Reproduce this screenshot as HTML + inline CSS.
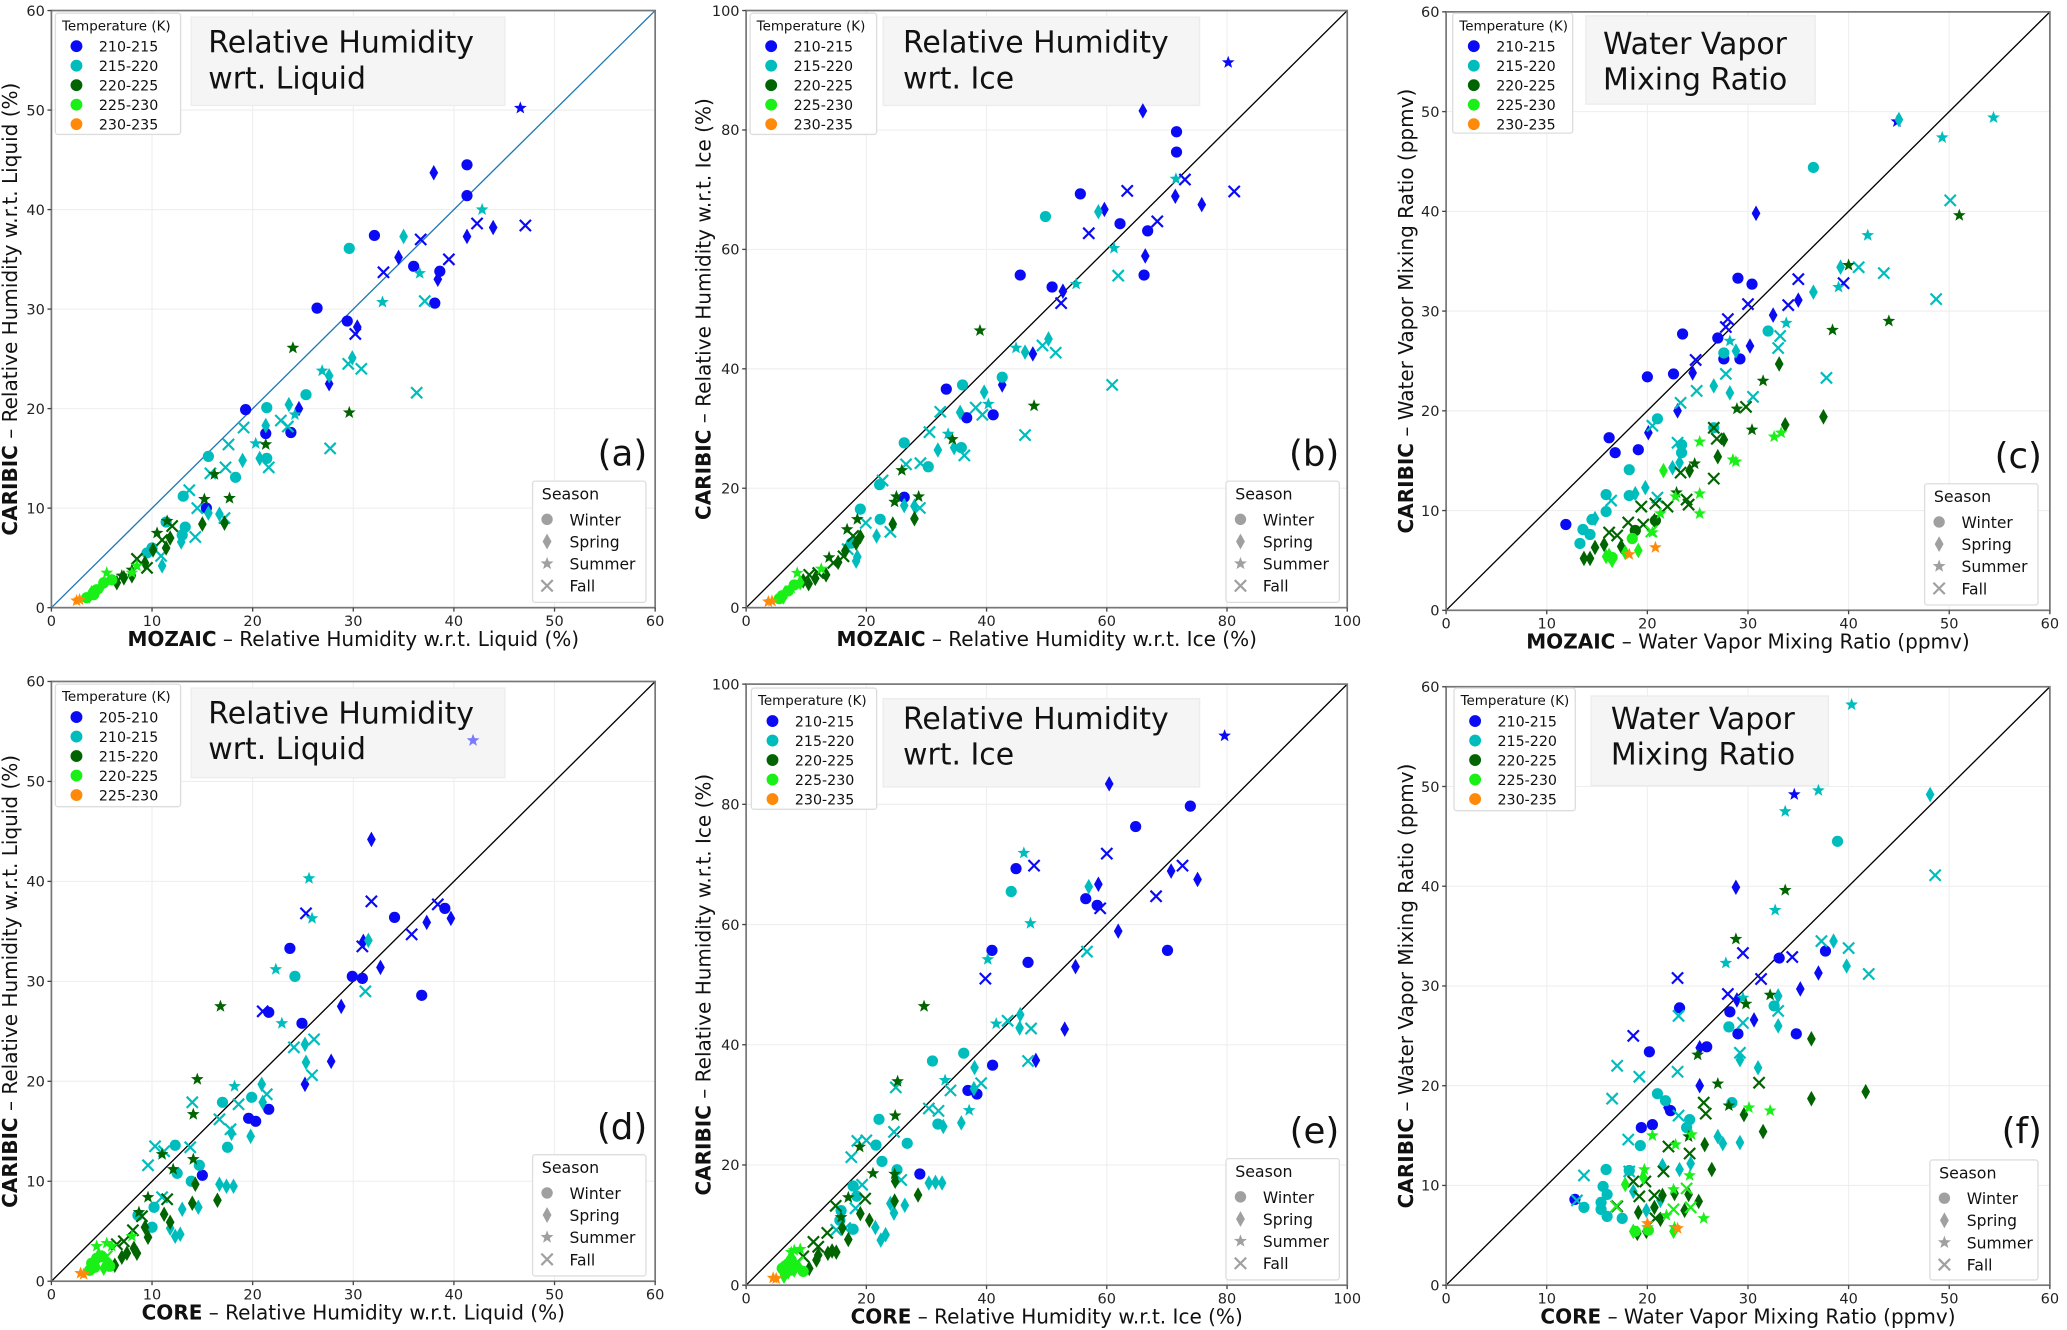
<!DOCTYPE html>
<html><head><meta charset="utf-8"><style>
html,body{margin:0;padding:0;background:#fff}
svg{display:block}
text{font-family:"DejaVu Sans","Liberation Sans",sans-serif}
</style></head><body>
<svg id="fig" width="2067" height="1330" viewBox="0 0 1568 1009" preserveAspectRatio="none" xmlns="http://www.w3.org/2000/svg"></svg>
<script>
// ---- data arrays: [x, y, tempClass, season] ; season 0 winter,1 spring,2 summer,3 fall
const panelAPoints = [
[46.6,50.2,0,2],[38,43.7,0,1],[41.3,44.5,0,0],[41.3,41.4,0,0],[41.3,37.3,0,1],[43.9,38.2,0,1],[42.3,38.6,0,3],[47.1,38.4,0,3],[36.7,37,0,3],[39.5,35,0,3],[32.1,37.4,0,0],[34.5,35.2,0,1],[33,33.7,0,3],[36,34.3,0,0],[38.6,33.8,0,0],[38.4,33,0,1],[38.1,30.6,0,0],[26.4,30.1,0,0],[29.4,28.8,0,0],[30.4,28.2,0,1],[30.2,27.5,0,3],[27.6,22.5,0,1],[24.6,20,0,1],[19.3,19.9,0,0],[21.3,17.5,0,0],[23.8,17.6,0,0],[15.4,10,0,0],
[29.6,36.1,1,0],[35,37.3,1,1],[42.8,40,1,2],[36.6,33.6,1,2],[32.9,30.7,1,2],[37.1,30.8,1,3],[29.5,24.5,1,3],[30.8,24,1,3],[29.9,25.1,1,1],[26.9,23.8,1,2],[27.6,23.3,1,1],[36.3,21.6,1,3],[27.7,16,1,3],[25.3,21.4,1,0],[21.4,20.1,1,0],[23.6,20.4,1,1],[21.3,18.3,1,1],[24.2,19.4,1,2],[22.8,18.8,1,3],[23.5,18.2,1,3],[19.1,18.1,1,3],[17.6,16.4,1,3],[20.3,16.5,1,2],[19,14.8,1,1],[20.7,15,1,1],[21.4,15,1,0],[18.3,13.1,1,0],[15.6,15.2,1,0],[13.1,11.2,1,0],[21.6,14.1,1,3],[17.3,14.1,1,3],[13.7,11.8,1,3],[14.5,10,1,3],[15.8,13.5,1,3],[14.3,7.1,1,3],[15.6,9.5,1,1],[16.7,9.4,1,1],[17.2,9,1,3],[11.4,8.6,1,0],[13.3,8.1,1,0],[13,7.3,1,0],[12.9,6.6,1,1],[10,6,1,0],[9.5,5.5,1,0],[11,4.2,1,1],[10.9,5.2,1,3],
[24,26.1,2,2],[29.6,19.6,2,2],[21.3,16.4,2,2],[16.2,13.4,2,2],[17.7,11,2,2],[15.2,10.9,2,2],[11.5,8.7,2,2],[15,8.4,2,1],[17.2,8.5,2,1],[11.8,7,2,1],[11.4,6,2,1],[10.1,5.8,2,1],[9.3,4.5,2,1],[8,3.2,2,1],[6.5,2.5,2,1],[7.2,3,2,1],[12,8.2,2,3],[11,6.8,2,3],[9.5,4,2,3],[8.5,4.9,2,3],[10.5,7.5,2,2],[7,3.2,2,2],[8,3.8,2,2],
[3.5,1,3,0],[4,1.5,3,1],[4.5,1.8,3,0],[5,2.2,3,1],[5.5,3.5,3,2],[6,2.8,3,0],[8,3.5,3,2],[8.5,4.2,3,2],[3.8,1.2,3,1],[4.2,1.3,3,0],[5.2,2.5,3,0],
[2.5,0.7,4,2],[2.8,0.8,4,2]];
const panelBPoints = [
[80.2,91.3,0,2],[66,83.2,0,1],[71.6,79.7,0,0],[71.6,76.3,0,0],[55.6,69.3,0,0],[62.2,64.3,0,0],[66.8,63.1,0,0],[45.6,55.7,0,0],[66.2,55.7,0,0],[50.9,53.7,0,0],[33.3,36.6,0,0],[36.7,31.8,0,0],[41.1,32.3,0,0],[26.3,18.5,0,0],[59.6,66.7,0,1],[71.4,68.9,0,1],[75.8,67.5,0,1],[66.4,58.9,0,1],[52.7,53,0,1],[47.7,42.5,0,1],[42.6,37.3,0,1],[63.4,69.8,0,3],[73,71.7,0,3],[81.2,69.7,0,3],[57,62.7,0,3],[68.4,64.7,0,3],[52.4,51,0,3],
[49.8,65.5,1,0],[26.3,27.6,1,0],[36,37.3,1,0],[42.6,38.6,1,0],[35.8,26.8,1,0],[30.3,23.6,1,0],[22.2,20.6,1,0],[19,16.5,1,0],[22.3,14.8,1,0],[17.5,10.8,1,0],[58.6,66.3,1,1],[50.3,45,1,1],[46.4,42.8,1,1],[39.6,36.1,1,1],[35.6,32.7,1,1],[31.9,26.4,1,1],[34.6,26.8,1,1],[26.3,17.1,1,1],[28,17,1,1],[21.7,12,1,1],[18.3,7.8,1,1],[18.5,8.5,1,1],[71.5,71.8,1,2],[61.2,60.2,1,2],[54.9,54.2,1,2],[44.9,43.5,1,2],[40.3,34.1,1,2],[33.6,29.1,1,2],[61.9,55.6,1,3],[49.3,43.9,1,3],[51.5,42.7,1,3],[38.2,33.5,1,3],[39.3,32.3,1,3],[32.3,32.8,1,3],[30.5,29.4,1,3],[60.9,37.3,1,3],[46.4,28.9,1,3],[36.3,25.5,1,3],[26.6,24,1,3],[29,24.2,1,3],[22.7,21.3,1,3],[28.9,16.7,1,3],[24,12.7,1,3],[19.9,14.2,1,3],[16.9,9.8,1,3],
[38.9,46.4,2,2],[47.9,33.8,2,2],[34.3,28.2,2,2],[25.9,23,2,2],[24.7,17.7,2,2],[25,18.6,2,2],[28.7,18.6,2,2],[16.8,13.1,2,2],[18.5,14.8,2,2],[13.8,8.4,2,2],[28,14.9,2,1],[24.4,14,2,1],[19,11.9,2,1],[18.3,10.8,2,1],[16.5,9.5,2,1],[15.3,7.6,2,1],[13.3,5.5,2,1],[11.5,4.9,2,1],[10.4,4,2,1],[9.5,4.5,2,1],[17.8,12,2,3],[16.2,8.6,2,3],[12,5.8,2,3],[14.5,7.5,2,3],[10.5,5.5,2,3],
[8.5,5.8,3,2],[6,2,3,0],[6.5,2.5,3,1],[7,2.8,3,0],[7.5,3.3,3,2],[8,3.8,3,0],[12.5,6.5,3,2],[6.2,1.8,3,1],[5.5,1.5,3,0],[9,4.2,3,1],
[3.7,1,4,2],[4.3,1.1,4,2]];
const panelCPoints = [
[11.9,8.6,0,0],[16.2,17.3,0,0],[16.8,15.8,0,0],[19.1,16.1,0,0],[20,23.4,0,0],[22.6,23.7,0,0],[23.5,27.7,0,0],[27,27.3,0,0],[27.6,25.2,0,0],[29,33.3,0,0],[29.2,25.2,0,0],[30.4,32.7,0,0],[44.8,49,0,2],[30.8,39.8,0,1],[20.1,17.8,0,1],[23,20,0,1],[24.5,23.8,0,1],[30.2,26.5,0,1],[32.5,29.6,0,1],[35,31.1,0,1],[24.8,25.1,0,3],[28,29.2,0,3],[27.8,28.4,0,3],[30,30.7,0,3],[34,30.6,0,3],[35,33.2,0,3],[39.5,32.8,0,3],
[36.5,44.4,1,0],[32,28,1,0],[27.6,25.8,1,0],[18.2,14.1,1,0],[15.9,11.6,1,0],[15.9,9.9,1,0],[13.6,8.1,1,0],[13.3,6.7,1,0],[14.3,7.6,1,0],[14.5,9.1,1,0],[21,19.2,1,0],[23.4,16.6,1,0],[23.4,15.8,1,0],[18.2,11.5,1,0],[26.6,18.3,1,0],[45,49.2,1,1],[39.2,34.4,1,1],[36.5,31.9,1,1],[28.8,26,1,1],[26.6,22.5,1,1],[28.2,21.8,1,1],[22.5,14.3,1,1],[23.2,14.8,1,1],[19.8,12.3,1,1],[18.8,11.7,1,1],[14.8,9.2,1,1],[49.3,47.4,1,2],[54.4,49.4,1,2],[41.9,37.6,1,2],[39,32.4,1,2],[33.8,28.8,1,2],[28.2,27,1,2],[50.1,41.1,1,3],[41,34.4,1,3],[43.5,33.8,1,3],[48.7,31.2,1,3],[33.2,27.5,1,3],[33,26.3,1,3],[37.8,23.3,1,3],[27.8,23.7,1,3],[24.9,22,1,3],[23.3,20.8,1,3],[30.5,21.4,1,3],[23,16.8,1,3],[21,11.3,1,3],[16.4,11,1,3],[20.5,18.5,1,3],
[51,39.6,2,2],[40,34.6,2,2],[44,29,2,2],[38.4,28.1,2,2],[31.5,23,2,2],[28.9,20.2,2,2],[30.4,18.1,2,2],[24.7,14.7,2,2],[22.9,11.8,2,2],[33.1,24.7,2,1],[37.5,19.4,2,1],[33.7,18.6,2,1],[27.6,17.1,2,1],[27,15.4,2,1],[24.2,14,2,1],[15.7,6.6,2,1],[14.8,6.3,2,1],[13.7,5.2,2,1],[14.3,5.2,2,1],[17.4,6.4,2,1],[20.7,9,2,1],[20.8,9,2,0],[18.8,8,2,0],[29.8,20.4,2,3],[26.9,17.2,2,3],[26.6,18.3,2,3],[26.6,13.2,2,3],[23.3,13.8,2,3],[23.9,11.1,2,3],[24.1,10.6,2,3],[22,10.4,2,3],[19.4,10.4,2,3],[20.8,10.7,2,3],[18.1,8.8,2,3],[17,7.5,2,3],[16.2,7.8,2,3],[19.6,8.6,2,3],
[25.2,16.9,3,2],[28.5,15.1,3,2],[28.8,14.9,3,2],[32.6,17.4,3,2],[33.3,17.8,3,2],[25.2,11.7,3,2],[25.2,9.7,3,2],[22.8,11.4,3,2],[21.3,9.7,3,2],[20.5,7.8,3,2],[21.6,14,3,1],[16.5,5,3,1],[19.1,6,3,1],[17.8,5.8,3,1],[15.9,5.4,3,1],[16.2,5.5,3,1],[16.5,5.3,3,0],[18.5,7.2,3,0],[20.4,7.9,3,3],
[18.2,5.6,4,2],[20.8,6.3,4,2]];
const panelDPoints = [
[41.9,54.1,5,2],[31.8,44.2,0,1],[37.3,35.9,0,1],[39.7,36.3,0,1],[32.7,31.4,0,1],[28.8,27.5,0,1],[27.8,22,0,1],[25.2,19.7,0,1],[31,34,0,1],[34.1,36.4,0,0],[39.1,37.3,0,0],[23.7,33.3,0,0],[29.9,30.5,0,0],[30.9,30.3,0,0],[36.8,28.6,0,0],[21.6,26.9,0,0],[24.9,25.8,0,0],[19.6,16.3,0,0],[20.3,16,0,0],[21.6,17.2,0,0],[15,10.6,0,0],[25.3,36.8,0,3],[31.8,38,0,3],[35.8,34.7,0,3],[38.4,37.7,0,3],[30.9,33.5,0,3],[21,27,0,3],
[25.6,40.3,1,2],[25.9,36.3,1,2],[22.3,31.2,1,2],[22.9,25.8,1,2],[18.2,19.5,1,2],[24.2,30.5,1,0],[17,17.9,1,0],[19.9,18.4,1,0],[17.5,13.4,1,0],[12.3,13.6,1,0],[14.7,11.6,1,0],[12.5,10.8,1,0],[13.9,10,1,0],[10.2,7.4,1,0],[8.6,6.6,1,0],[10,5.4,1,0],[31.5,34.1,1,1],[25.2,23.7,1,1],[25.3,21.9,1,1],[20.9,19.7,1,1],[21,17.9,1,1],[19.8,14.5,1,1],[17.9,14.8,1,1],[16.7,9.7,1,1],[17.4,9.5,1,1],[18.1,9.5,1,1],[13,7.2,1,1],[14.6,7.4,1,1],[12.3,4.5,1,1],[12.8,4.7,1,1],[11.8,5.3,1,1],[31.2,29,1,3],[24.1,23.4,1,3],[26.1,24.2,1,3],[25.9,20.6,1,3],[21.4,18.7,1,3],[18.6,17.7,1,3],[14,17.9,1,3],[16.7,16.2,1,3],[17.8,15.2,1,3],[10.3,13.5,1,3],[9.6,11.6,1,3],[11.2,13,1,3],[13.8,13.4,1,3],[11,8.4,1,3],
[16.8,27.5,2,2],[14.5,20.2,2,2],[14.1,16.7,2,2],[14.1,12.2,2,2],[11,12.7,2,2],[12.1,11.2,2,2],[9.6,8.4,2,2],[8.7,6.9,2,2],[16.5,8.1,2,1],[14.3,9.7,2,1],[14,7.8,2,1],[11.2,6.7,2,1],[11.8,5.9,2,1],[9.3,5.4,2,1],[9.6,4.4,2,1],[8.2,3.3,2,1],[7.5,2.8,2,1],[7,2.4,2,1],[6.3,1.6,2,1],[8.5,2.8,2,1],[11.5,8.2,2,3],[8.1,5.1,2,3],[9,6.5,2,3],[6.5,3.7,2,3],[7.2,4,2,3],
[4.5,3.5,3,2],[5.5,3.8,3,2],[6,3.5,3,2],[8,4.5,3,2],[4,1.8,3,0],[4.5,2.3,3,0],[5,2.5,3,0],[4.3,1.4,3,0],[5.8,1.5,3,0],[3.8,1.1,3,0],[5.2,1.3,3,1],[4.7,2.6,3,1],[5.5,2,3,1],[5.5,2.5,3,3],
[2.9,0.8,4,2],[3.2,0.7,4,2]];
const panelEPoints = [
[79.6,91.4,0,2],[60.4,83.4,0,1],[58.6,66.7,0,1],[70.7,68.9,0,1],[75.1,67.5,0,1],[61.9,58.9,0,1],[54.8,53,0,1],[53,42.6,0,1],[48.2,37.4,0,1],[73.9,79.7,0,0],[64.8,76.3,0,0],[44.9,69.3,0,0],[56.5,64.3,0,0],[58.4,63.2,0,0],[40.9,55.7,0,0],[46.9,53.7,0,0],[70.1,55.7,0,0],[41,36.6,0,0],[36.9,32.4,0,0],[38.4,31.8,0,0],[28.9,18.5,0,0],[47.9,69.8,0,3],[60,71.8,0,3],[72.6,69.8,0,3],[68.2,64.7,0,3],[58.9,62.7,0,3],[39.8,51,0,3],
[46.2,71.9,1,2],[47.3,60.2,1,2],[40.2,54.2,1,2],[41.6,43.5,1,2],[33.1,34.1,1,2],[37.1,29.1,1,2],[44.1,65.5,1,0],[31,37.3,1,0],[36.2,38.6,1,0],[22.1,27.6,1,0],[31.9,26.8,1,0],[26.8,23.6,1,0],[21.6,23.3,1,0],[22.6,20.6,1,0],[25.1,19.2,1,0],[17.8,16.5,1,0],[18.4,14.8,1,0],[15.8,12.4,1,0],[15.6,10.8,1,0],[17.8,9.3,1,0],[57,66.3,1,1],[45.6,45,1,1],[45.5,42.8,1,1],[38,36.2,1,1],[37.9,32.7,1,1],[32.8,26.4,1,1],[35.8,27,1,1],[30.4,17,1,1],[31.5,17.1,1,1],[32.6,17,1,1],[24,13.6,1,1],[26.4,13.3,1,1],[24.6,12,1,1],[21.5,9.6,1,1],[22.4,7.5,1,1],[23.2,8.4,1,1],[56.7,55.5,1,3],[43.5,44,1,3],[47.4,42.7,1,3],[46.9,37.3,1,3],[39.1,33.6,1,3],[34,32.4,1,3],[24.9,32.9,1,3],[30.4,29.4,1,3],[32,29,1,3],[24.6,25.5,1,3],[18.5,24,1,3],[20,24.1,1,3],[17.5,21.3,1,3],[25.8,17.5,1,3],[19.3,16.7,1,3],[18.2,12.8,1,3],[15,9.2,1,3],[16.5,9.5,1,3],
[29.6,46.4,2,2],[25.2,33.9,2,2],[24.8,28.2,2,2],[21.1,18.6,2,2],[24.7,18.5,2,2],[18.9,23,2,2],[17,14.6,2,2],[15.8,11.3,2,2],[28.6,15,2,1],[24.7,14,2,1],[24.8,17.3,2,1],[20.5,10.8,2,1],[19,11.9,2,1],[17,7.6,2,1],[16,9.5,2,1],[13.6,5.3,2,1],[14.3,5.7,2,1],[11.7,4.2,2,1],[10.5,2.8,2,1],[12,5,2,1],[15,5.5,2,1],[19.8,14.4,2,3],[14.9,13.2,2,3],[13.5,8.7,2,3],[12,6.4,2,3],[11.2,7.2,2,3],[9.5,4.8,2,3],
[7.5,5.5,3,2],[9,6,3,2],[8,5.8,3,2],[6,2.8,3,0],[6.5,3.2,3,0],[7,3.6,3,0],[7.5,4.2,3,0],[6.5,2,3,0],[7.5,2.5,3,0],[8.3,3.2,3,0],[9.5,2.3,3,0],[6.3,1.5,3,1],[7,2.2,3,1],[8,2.5,3,1],[8.6,3.8,3,3],
[4.5,1.2,4,2],[5,1.1,4,2]];
const panelFPoints = [
[12.8,8.6,0,0],[20.2,23.4,0,0],[19.4,15.8,0,0],[20.5,16.1,0,0],[23.2,27.8,0,0],[28.2,27.4,0,0],[29,25.2,0,0],[33.1,32.8,0,0],[37.7,33.5,0,0],[34.8,25.2,0,0],[25.9,23.9,0,0],[22.3,17.5,0,0],[34.6,49.2,0,2],[28.8,39.9,0,1],[28.9,28.6,0,1],[37,31.3,0,1],[35.2,29.7,0,1],[30.6,26.6,0,1],[25.2,23.8,0,1],[25.2,20,0,1],[22,17.8,0,1],[18.6,25,0,3],[23,30.8,0,3],[28,29.2,0,3],[29.5,33.3,0,3],[31.3,30.7,0,3],[34.4,32.9,0,3],
[40.3,58.2,1,2],[37,49.6,1,2],[33.7,47.5,1,2],[32.7,37.6,1,2],[27.8,32.3,1,2],[29.5,28.8,1,2],[38.9,44.5,1,0],[32.6,28,1,0],[28.1,25.9,1,0],[28.4,18.3,1,0],[21,19.2,1,0],[21.8,18.5,1,0],[24.2,16.6,1,0],[23.9,15.8,1,0],[19.3,14,1,0],[18.2,11.5,1,0],[15.9,11.6,1,0],[15.6,9.9,1,0],[16,9.1,1,0],[15.4,8.3,1,0],[15.4,7.6,1,0],[13.7,7.8,1,0],[16,6.9,1,0],[17.5,6.7,1,0],[48.1,49.2,1,1],[38.5,34.5,1,1],[39.8,32,1,1],[33,29,1,1],[33,26,1,1],[29.2,22.6,1,1],[31,21.8,1,1],[27,14.9,1,1],[27.5,14.2,1,1],[29.2,14.3,1,1],[24.3,12.2,1,1],[23.2,11.6,1,1],[21.5,12,1,1],[18.6,9.4,1,1],[19.9,7.5,1,1],[21.3,8.5,1,1],[48.6,41.1,1,3],[37.3,34.5,1,3],[40,33.8,1,3],[42,31.2,1,3],[33,27.5,1,3],[29.5,26.3,1,3],[23.1,27,1,3],[29.2,23.3,1,3],[17,22,1,3],[19.2,20.9,1,3],[16.5,18.7,1,3],[23,21.4,1,3],[23.1,17,1,3],[18.1,14.6,1,3],[13.7,11,1,3],[18.2,11.4,1,3],[13,8.5,1,3],
[28.8,34.7,2,2],[33.7,39.6,2,2],[32.2,29.1,2,2],[29.8,28.2,2,2],[25,23.1,2,2],[27,20.2,2,2],[28.1,18,2,2],[24.1,14.9,2,2],[36.3,24.7,2,1],[36.3,18.7,2,1],[41.7,19.4,2,1],[29.6,17.1,2,1],[31.5,15.4,2,1],[25.7,14.1,2,1],[26.4,11.6,2,1],[22.7,9.2,2,1],[24.1,9.1,2,1],[25.1,8.4,2,1],[23.7,7.5,2,1],[21.5,9,2,1],[20.7,7.8,2,1],[19.1,7.3,2,1],[21.3,6.6,2,1],[19.9,5.4,2,1],[19,5.2,2,1],[31.1,20.3,2,3],[25.6,18.3,2,3],[25.8,17.2,2,3],[22.1,13.9,2,3],[24.2,13.2,2,3],[21.6,11.4,2,3],[18.6,10.4,2,3],[19.8,10.4,2,3],[20.7,9,2,3],[19.2,8.9,2,3],[17,7.9,2,3],[20.8,6.7,2,3],
[30.1,17.8,3,2],[32.2,17.5,3,2],[20.5,15,3,2],[22.8,14.1,3,2],[24.4,15.1,3,2],[24.2,11,3,2],[19.7,11.6,3,2],[22.6,9.6,3,2],[25.6,6.7,3,2],[21.9,7,3,2],[20,5.8,3,2],[22.7,5.8,3,2],[17.8,10.1,3,1],[19.6,10.8,3,1],[18.6,5.4,3,1],[22.6,5.4,3,1],[18.8,5.4,3,0],[20.1,5.5,3,0],[16.9,7.9,3,3],[23.9,9.7,3,3],[22.6,7.6,3,3],[24.3,7.8,3,3],
[20,6.2,4,2],[23,5.7,4,2]];
const tempLabelsTop = ["210-215","215-220","220-225","225-230","230-235"];
const tempLabelsD = ["205-210","210-215","215-220","220-225","225-230"];
const seasonLabels = ["Winter","Spring","Summer","Fall"];
const ticks60 = [0,10,20,30,40,50,60];
const ticks100 = [0,20,40,60,80,100];

const COLORS = ["#0a0af5","#00bdbd","#006400","#18f018","#ff8a0a","#7a7aff"];
const NS = "http://www.w3.org/2000/svg";
const svg = document.getElementById("fig");
function el(tag, attrs, parent, txt){
  const e = document.createElementNS(NS, tag);
  for (const k in attrs) e.setAttribute(k, attrs[k]);
  if (txt !== undefined) e.textContent = txt;
  (parent || svg).appendChild(e);
  return e;
}
function marker(g, s, cx, cy, color, scale){
  const k = scale || 1;
  let m;
  if (s === 0) m = el("circle",{cx:cx,cy:cy,r:3.6*k,fill:color},g);
  else if (s === 1) m = el("polygon",{points:`${cx},${cy-5*k} ${cx+2.8*k},${cy} ${cx},${cy+5*k} ${cx-2.8*k},${cy}`,fill:color},g);
  else if (s === 2){
    let p=[];for(let i=0;i<10;i++){const r=(i%2?1.8:4.3)*k;const a=-Math.PI/2+i*Math.PI/5;p.push((cx+r*Math.cos(a)).toFixed(2)+","+(cy+r*Math.sin(a)).toFixed(2));}
    m = el("polygon",{points:p.join(" "),fill:color},g);
  } else {
    const d=3.6*k;
    m = el("path",{d:`M${cx-d},${cy-d}L${cx+d},${cy+d}M${cx+d},${cy-d}L${cx-d},${cy+d}`,stroke:color,"stroke-width":1.4*k,fill:"none"},g);
  }
  return m;
}

const panels = [
 {id:"a",L:39,R:497,T:8,B:461,max:60,ticks:ticks60,pts:panelAPoints,diag:"#1f77b4",temps:tempLabelsTop,
  xb:"MOZAIC",xl:" – Relative Humidity w.r.t. Liquid (%)",yb:"CARIBIC",yl:" – Relative Humidity w.r.t. Liquid (%)",ylx:8,
  t1:"Relative Humidity",t2:"wrt. Liquid",tb:[145,13,238,67],tx:158,ty:40,tl:[42,10,95,92],sl:[404,365,86,92]},
 {id:"b",L:566,R:1022,T:8,B:461,max:100,ticks:ticks100,pts:panelBPoints,diag:"#000",temps:tempLabelsTop,
  xb:"MOZAIC",xl:" – Relative Humidity w.r.t. Ice (%)",yb:"CARIBIC",yl:" – Relative Humidity w.r.t. Ice (%)",ylx:534,
  t1:"Relative Humidity",t2:"wrt. Ice",tb:[670,13,240,67],tx:685,ty:40,tl:[569,10,96,92],sl:[930,365,86,92]},
 {id:"c",L:1097,R:1555,T:9,B:463,max:60,ticks:ticks60,pts:panelCPoints,diag:"#000",temps:tempLabelsTop,
  xb:"MOZAIC",xl:" – Water Vapor Mixing Ratio (ppmv)",yb:"CARIBIC",yl:" – Water Vapor Mixing Ratio (ppmv)",ylx:1067,
  t1:"Water Vapor",t2:"Mixing Ratio",tb:[1203,12,174,67],tx:1216,ty:41,tl:[1102,10,91,91],sl:[1460,367,86,92]},
 {id:"d",L:39,R:497,T:517,B:972,max:60,ticks:ticks60,pts:panelDPoints,diag:"#000",temps:tempLabelsD,
  xb:"CORE",xl:" – Relative Humidity w.r.t. Liquid (%)",yb:"CARIBIC",yl:" – Relative Humidity w.r.t. Liquid (%)",ylx:8,
  t1:"Relative Humidity",t2:"wrt. Liquid",tb:[145,522,238,68],tx:158,ty:549,tl:[42,519,95,93],sl:[404,876,86,92]},
 {id:"e",L:566,R:1022,T:519,B:975,max:100,ticks:ticks100,pts:panelEPoints,diag:"#000",temps:tempLabelsTop,
  xb:"CORE",xl:" – Relative Humidity w.r.t. Ice (%)",yb:"CARIBIC",yl:" – Relative Humidity w.r.t. Ice (%)",ylx:534,
  t1:"Relative Humidity",t2:"wrt. Ice",tb:[670,530,240,67],tx:685,ty:553,tl:[570,522,95,92],sl:[930,879,86,92]},
 {id:"f",L:1097,R:1555,T:521,B:975,max:60,ticks:ticks60,pts:panelFPoints,diag:"#000",temps:tempLabelsTop,
  xb:"CORE",xl:" – Water Vapor Mixing Ratio (ppmv)",yb:"CARIBIC",yl:" – Water Vapor Mixing Ratio (ppmv)",ylx:1067,
  t1:"Water Vapor",t2:"Mixing Ratio",tb:[1207,528,180,68],tx:1222,ty:553,tl:[1103,522,92,93],sl:[1464,880,82,91]}
];

panels.forEach(p=>{
  const g = el("g",{});
  
  
  const sx = v => p.L + v/p.max*(p.R-p.L);
  const sy = v => p.B - v/p.max*(p.B-p.T);
  p.ticks.forEach(t=>{
    el("line",{x1:sx(t),x2:sx(t),y1:p.T,y2:p.B,stroke:"#eee","stroke-width":0.8},g);
    el("line",{x1:p.L,x2:p.R,y1:sy(t),y2:sy(t),stroke:"#eee","stroke-width":0.8},g);
  });
  const tb = el("rect",{x:p.tb[0],y:p.tb[1],width:p.tb[2],height:p.tb[3],fill:"#f5f5f5",stroke:"#ececec"},g);
  
  
  const t1 = el("text",{x:p.tx,y:p.ty,"font-size":22.7,fill:"#111"},g,p.t1);
  
  
  el("text",{x:p.tx,y:p.ty+27,"font-size":22.7,fill:"#111"},g,p.t2);
  const dg = el("line",{x1:sx(0),y1:sy(0),x2:sx(p.max),y2:sy(p.max),stroke:p.diag,"stroke-width":1},g);
  
  
  p.pts.forEach(d=>{
    const m = marker(g, d[3], sx(d[0]), sy(d[1]), COLORS[d[2]], 1.18);
    
    
  });
  el("rect",{x:p.L,y:p.T,width:p.R-p.L,height:p.B-p.T,fill:"none",stroke:"#777","stroke-width":1.3},g);
  p.ticks.forEach(t=>{
    el("line",{x1:sx(t),x2:sx(t),y1:p.B,y2:p.B+3,stroke:"#444"},g);
    el("line",{x1:p.L-3,x2:p.L,y1:sy(t),y2:sy(t),stroke:"#444"},g);
    const xt = el("text",{x:sx(t),y:p.B+14,"font-size":11,"text-anchor":"middle",fill:"#222"},g,String(t));
    
    
    const yt = el("text",{x:p.L-5,y:sy(t)+4,"font-size":11,"text-anchor":"end",fill:"#222"},g,String(t));
    
    
  });
  const xt = el("text",{x:(p.L+p.R)/2,y:p.B+29,"font-size":15.2,"text-anchor":"middle",fill:"#111"},g);
  
  
  el("tspan",{"font-weight":"bold"},xt,p.xb);
  el("tspan",{},xt,p.xl);
  const cy = (p.T+p.B)/2;
  const yt = el("text",{x:0,y:0,"font-size":15.2,"text-anchor":"middle",fill:"#111",transform:`translate(${p.ylx+5},${cy}) rotate(-90)`},g);
  
  
  el("tspan",{"font-weight":"bold"},yt,p.yb);
  el("tspan",{},yt,p.yl);
  const lg = el("g",{},g);
  
  
  const [lx,ly,lw,lh] = p.tl;
  el("rect",{x:lx,y:ly,width:lw,height:lh,fill:"#fff",stroke:"#ddd",rx:2},lg);
  el("text",{x:lx+5,y:ly+13,"font-size":10.2,fill:"#111"},lg,"Temperature (K)");
  p.temps.forEach((lab,i)=>{
    const yy = ly+25+i*14.8;
    el("circle",{cx:lx+16,cy:yy,r:4.5,fill:COLORS[i]},lg);
    const tt = el("text",{x:lx+33,y:yy+4,"font-size":10.8,fill:"#111"},lg,lab);
    
    
  });
  const sg = el("g",{},g);
  
  
  const [qx,qy,qw,qh] = p.sl;
  el("rect",{x:qx,y:qy,width:qw,height:qh,fill:"#fff",stroke:"#ddd",rx:2},sg);
  el("text",{x:qx+7,y:qy+14,"font-size":12,fill:"#111"},sg,"Season");
  seasonLabels.forEach((lab,i)=>{
    const yy = qy+29+i*16.8;
    marker(sg,i,qx+11,yy,"#a0a0a0",1.2);
    const tt = el("text",{x:qx+28,y:yy+4.5,"font-size":11.8,fill:"#111"},sg,lab);
    
    
  });
  const lt = el("text",{x:p.R-6,y:p.B-108,"font-size":27,"text-anchor":"end",fill:"#111"},g,"("+p.id+")");
  
  
});
</script>
</body></html>
